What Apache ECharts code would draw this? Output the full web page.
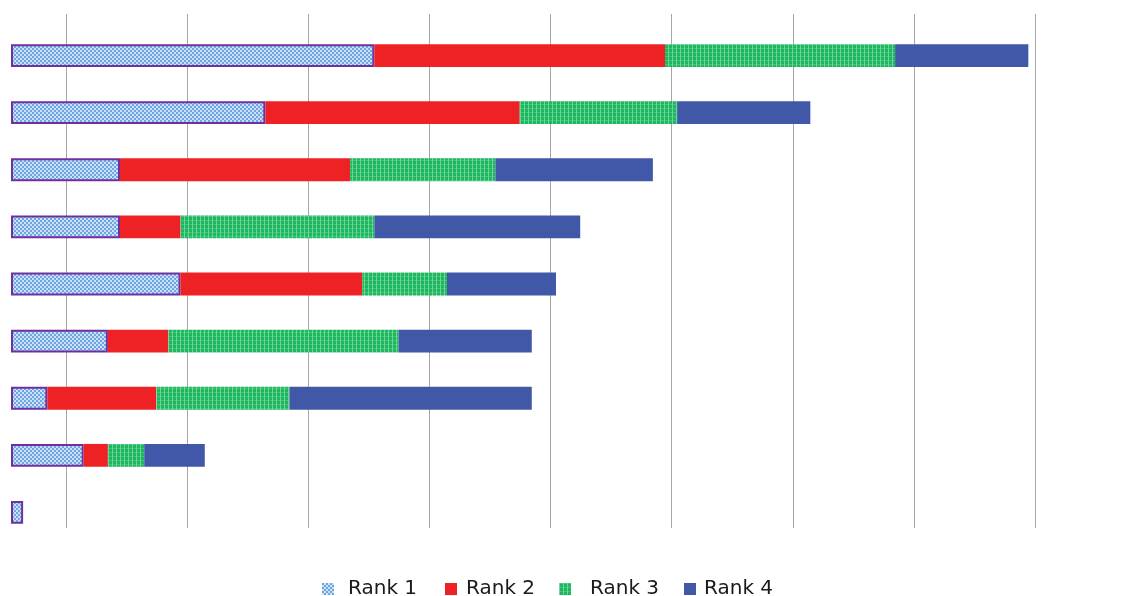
<!DOCTYPE html>
<html>
<head>
<meta charset="utf-8">
<script src="https://cdn.jsdelivr.net/npm/echarts@6/dist/echarts.min.js"></script>
<style>
  html, body { margin: 0; padding: 0; background: #fff; }
  #chart { width: 1146px; height: 596px; }
</style>
</head>
<body>
<div id="chart"></div>
<script>
// data (top to bottom)
const categories = ['A', 'B', 'C', 'D', 'E', 'F', 'G', 'H', 'I'];
const seriesNames = ['Rank 1', 'Rank 2', 'Rank 3', 'Rank 4'];
const rank1 = [30, 21, 9, 9, 14, 8, 3, 6, 1];
const rank2 = [24, 21, 19, 5, 15, 5, 9, 2, 0];
const rank3 = [19, 13, 12, 16, 7, 19, 11, 3, 0];
const rank4 = [11, 11, 13, 17, 9, 11, 20, 5, 0];

// small tiled patterns for the hatched series
function makePattern(size, draw) {
  const c = document.createElement('canvas');
  c.width = size;
  c.height = size;
  draw(c.getContext('2d'));
  return c;
}

const bluePattern = makePattern(4, function (ctx) {
  ctx.fillStyle = '#cde1f6';
  ctx.fillRect(0, 0, 4, 4);
  ctx.fillStyle = '#6ea6e4';
  ctx.fillRect(0, 0, 2, 2);
  ctx.fillRect(2, 2, 2, 2);
});

const greenPattern = makePattern(4, function (ctx) {
  ctx.fillStyle = '#1db75d';
  ctx.fillRect(0, 0, 4, 4);
  ctx.fillStyle = '#6fd49b';
  ctx.fillRect(0, 0, 1, 4);
  ctx.fillStyle = 'rgba(120, 215, 160, 0.45)';
  ctx.fillRect(1, 0, 3, 1);
});

const styles = [
  { color: { image: bluePattern, repeat: 'repeat' }, borderColor: '#7030a0', borderWidth: 2 },
  { color: '#ee2224' },
  { color: { image: greenPattern, repeat: 'repeat' } },
  { color: '#4157a7' }
];
const values = [rank1, rank2, rank3, rank4];

// legend placement (excel-ish uneven spacing)
const legendLeft = [322, 445, 559, 684];
const legendTextPad = [9, 4, 14, 3];

const myChart = echarts.init(document.getElementById('chart'));

myChart.setOption({
  animation: false,
  grid: [
    { left: 11, top: 27, width: 1090, height: 514 },
    { left: 66, top: 14, width: 969, height: 514 }
  ],
  xAxis: [
    {
      type: 'value',
      gridIndex: 0,
      min: 0,
      max: 90,
      axisLine: { show: false },
      axisTick: { show: false },
      axisLabel: { show: false },
      splitLine: { show: false }
    },
    {
      type: 'value',
      gridIndex: 1,
      min: 0,
      max: 80,
      interval: 10,
      axisLine: { show: false },
      axisTick: { show: false },
      axisLabel: { show: false },
      splitLine: { show: true, lineStyle: { color: '#a6a6a6', width: 1 } }
    }
  ],
  yAxis: [
    {
      type: 'category',
      gridIndex: 0,
      inverse: true,
      data: categories,
      axisLine: { show: false },
      axisTick: { show: false },
      axisLabel: { show: false }
    },
    {
      type: 'category',
      gridIndex: 1,
      data: categories,
      axisLine: { show: false },
      axisTick: { show: false },
      axisLabel: { show: false }
    }
  ],
  legend: seriesNames.map(function (name, i) {
    return {
      data: [name],
      left: legendLeft[i],
      top: 579,
      padding: 0,
      icon: 'rect',
      itemWidth: 12,
      itemHeight: 12,
      itemStyle: { borderWidth: 0 },
      textStyle: {
        fontFamily: 'DejaVu Sans',
        fontSize: 20,
        color: '#1a1a1a',
        padding: [0, 0, 0, legendTextPad[i]]
      }
    };
  }),
  series: seriesNames.map(function (name, i) {
    return {
      name: name,
      type: 'bar',
      stack: 'total',
      xAxisIndex: 0,
      yAxisIndex: 0,
      barWidth: '40%',
      itemStyle: styles[i],
      emphasis: { disabled: true },
      data: values[i]
    };
  })
});
</script>
</body>
</html>
